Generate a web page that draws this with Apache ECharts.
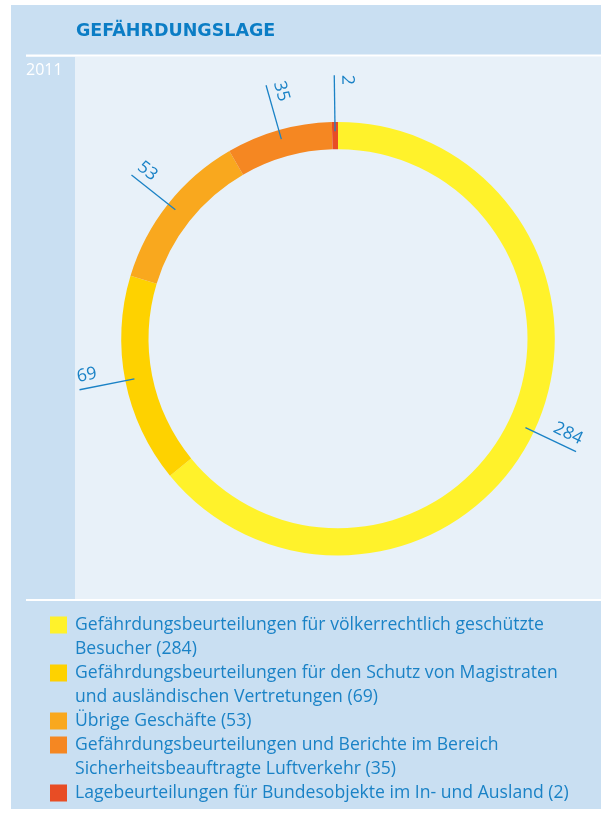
<!DOCTYPE html>
<html>
<head>
<meta charset="utf-8">
<script src="https://cdn.jsdelivr.net/npm/echarts@6/dist/echarts.min.js"></script>
<style>
html, body { margin: 0; padding: 0; background: #fff; }
#chart { width: 601px; height: 814px; }
</style>
</head>
<body>
<div id="chart"></div>
<script>
// Daten
var titleText = 'GEFÄHRDUNGSLAGE';
var yearText = '2011';
var categories = [
    'Gefährdungsbeurteilungen für völkerrechtlich geschützte\nBesucher',
    'Gefährdungsbeurteilungen für den Schutz von Magistraten\nund ausländischen Vertretungen',
    'Übrige Geschäfte',
    'Gefährdungsbeurteilungen und Berichte im Bereich\nSicherheitsbeauftragte Luftverkehr',
    'Lagebeurteilungen für Bundesobjekte im In- und Ausland'
];
var values = [284, 69, 53, 35, 2];
var colors = ['#fff22b', '#fed200', '#f9a81e', '#f58722', '#e84d25'];

var blue = '#1a82c6';
var center = [338, 338.7];

var pieData = categories.map(function (name, i) {
    return { name: name, value: values[i], itemStyle: { color: colors[i] } };
});

// Legende: Quadrat auf Höhe der ersten Zeile
var legendData = categories.map(function (name) {
    var twoLines = name.indexOf('\n') >= 0;
    return {
        name: name,
        icon: twoLines
            ? 'path://M0,0L0.01,0M0,3.5H17V20.5H0ZM0,48L0.01,48'
            : 'path://M0,0L0.01,0M0,3.5H17V20.5H0ZM0,24L0.01,24'
    };
});

var myChart = echarts.init(document.getElementById('chart'));
myChart.setOption({
    animation: false,
    backgroundColor: '#ffffff',
    graphic: {
        elements: [
            { type: 'rect', z: -10, shape: { x: 11, y: 5, width: 590, height: 804 }, style: { fill: '#c9dff2' } },
            { type: 'rect', z: -9, shape: { x: 75, y: 57, width: 526, height: 542 }, style: { fill: '#e8f1f9' } },
            { type: 'rect', z: -8, shape: { x: 26, y: 54.5, width: 575, height: 2.2 }, style: { fill: '#ffffff' } },
            { type: 'rect', z: -8, shape: { x: 26, y: 599, width: 575, height: 2 }, style: { fill: '#ffffff' } },
            {
                type: 'text', z: 5, x: 76, y: 31.5,
                style: {
                    text: titleText, fill: '#0b7dc5',
                    font: 'bold 17.5px "DejaVu Sans"',
                    verticalAlign: 'middle'
                }
            },
            {
                type: 'text', z: 5, x: 26, y: 70,
                style: {
                    text: yearText, fill: '#ffffff',
                    font: '16px "Open Sans"',
                    verticalAlign: 'middle'
                }
            }
        ]
    },
    legend: {
        orient: 'vertical',
        left: 50,
        top: 613,
        padding: 0,
        itemGap: 0,
        itemWidth: 17,
        itemHeight: 48,
        selectedMode: false,
        data: legendData,
        itemStyle: { borderWidth: 0 },
        formatter: function (name) {
            return name + ' (' + values[categories.indexOf(name)] + ')';
        },
        textStyle: {
            color: blue,
            fontFamily: 'Open Sans',
            fontSize: 17.6,
            lineHeight: 24,
            padding: [0, 0, 0, 3]
        }
    },
    series: [
        {
            // Ring
            name: 'ring',
            type: 'pie',
            z: 2,
            center: center,
            radius: [189.5, 216.8],
            startAngle: 90,
            clockwise: true,
            silent: true,
            label: { show: false },
            labelLine: { show: false },
            itemStyle: { borderWidth: 0 },
            emphasis: { disabled: true },
            data: pieData
        },
        {
            // Beschriftungen mit radialen Linien
            name: 'labels',
            type: 'pie',
            z: 5,
            center: center,
            radius: [0, 207.5],
            startAngle: 90,
            clockwise: true,
            silent: true,
            avoidLabelOverlap: false,
            itemStyle: { color: 'rgba(0,0,0,0)', borderWidth: 0 },
            emphasis: { disabled: true },
            label: {
                show: true,
                position: 'outside',
                rotate: 'radial',
                formatter: '{c}',
                color: blue,
                fontFamily: 'Open Sans',
                fontSize: 17.5,
                lineHeight: 26,
                distanceToLabelLine: 0
            },
            labelLine: {
                show: true,
                length: 56,
                length2: 0,
                lineStyle: { color: blue, width: 1.3 }
            },
            labelLayout: function (p) {
                return {
                    align: p.align === 'right' ? 'left' : 'right',
                    verticalAlign: 'bottom'
                };
            },
            data: pieData.map(function (d) {
                return { name: d.name, value: d.value };
            })
        }
    ]
});
</script>
</body>
</html>
